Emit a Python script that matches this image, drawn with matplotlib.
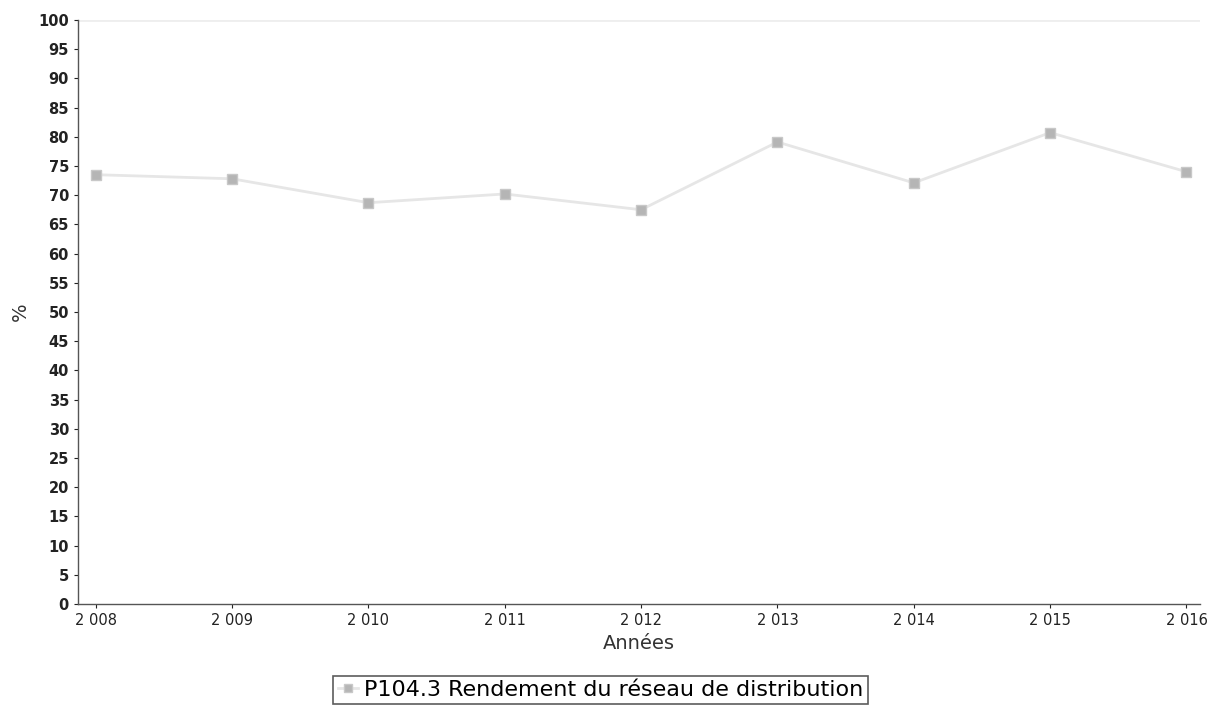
import matplotlib
matplotlib.use("Agg")
import matplotlib.pyplot as plt
from matplotlib.ticker import MultipleLocator

# Rendement du réseau de distribution (%) par année
years = [2008, 2009, 2010, 2011, 2012, 2013, 2014, 2015, 2016]
year_labels = ["2 008", "2 009", "2 010", "2 011", "2 012", "2 013", "2 014", "2 015", "2 016"]
rendement = [73.5, 72.8, 68.7, 70.2, 67.5, 79.1, 72.1, 80.7, 74.0]
series_label = "P104.3 Rendement du réseau de distribution"

plt.rcParams["font.family"] = ["DejaVu Sans"]

fig = plt.figure(figsize=(12.11, 7.11), dpi=100)
ax = fig.add_axes([0.0644, 0.1505, 0.9266, 0.8215])

ax.plot(years, rendement, color="#e6e6e6", linewidth=2.0,
        marker="s", markersize=7, markerfacecolor="#b5b5b5",
        markeredgecolor="#c8c8c8", label=series_label)

ax.set_xlim(2007.87, 2016.1)
ax.set_ylim(0, 100)
ax.yaxis.set_major_locator(MultipleLocator(5))
ax.set_xticks(years)
ax.set_xticklabels(year_labels)
ax.tick_params(axis="both", labelsize=10.5, colors="#222222", length=3)
for lbl in ax.get_yticklabels():
    lbl.set_fontweight("bold")

ax.axhline(100, color="#eeeeee", linewidth=2, zorder=0)

for side in ("top", "right"):
    ax.spines[side].set_visible(False)
for side in ("left", "bottom"):
    ax.spines[side].set_color("#555555")
    ax.spines[side].set_linewidth(1.0)

ax.set_xlabel("Années", fontsize=14, color="#333333", labelpad=4)
ax.set_ylabel("%", fontsize=14, color="#333333", labelpad=6)

leg = fig.legend(loc="lower center", bbox_to_anchor=(0.496, 0.003),
                 fontsize=16, frameon=True, fancybox=False,
                 handlelength=0.9, handletextpad=0.3, borderpad=0.2,
                 borderaxespad=0.2, markerscale=0.8)
leg.get_frame().set_edgecolor("#333333")
leg.get_frame().set_linewidth(1.2)

fig.savefig("out.png", dpi=100)
